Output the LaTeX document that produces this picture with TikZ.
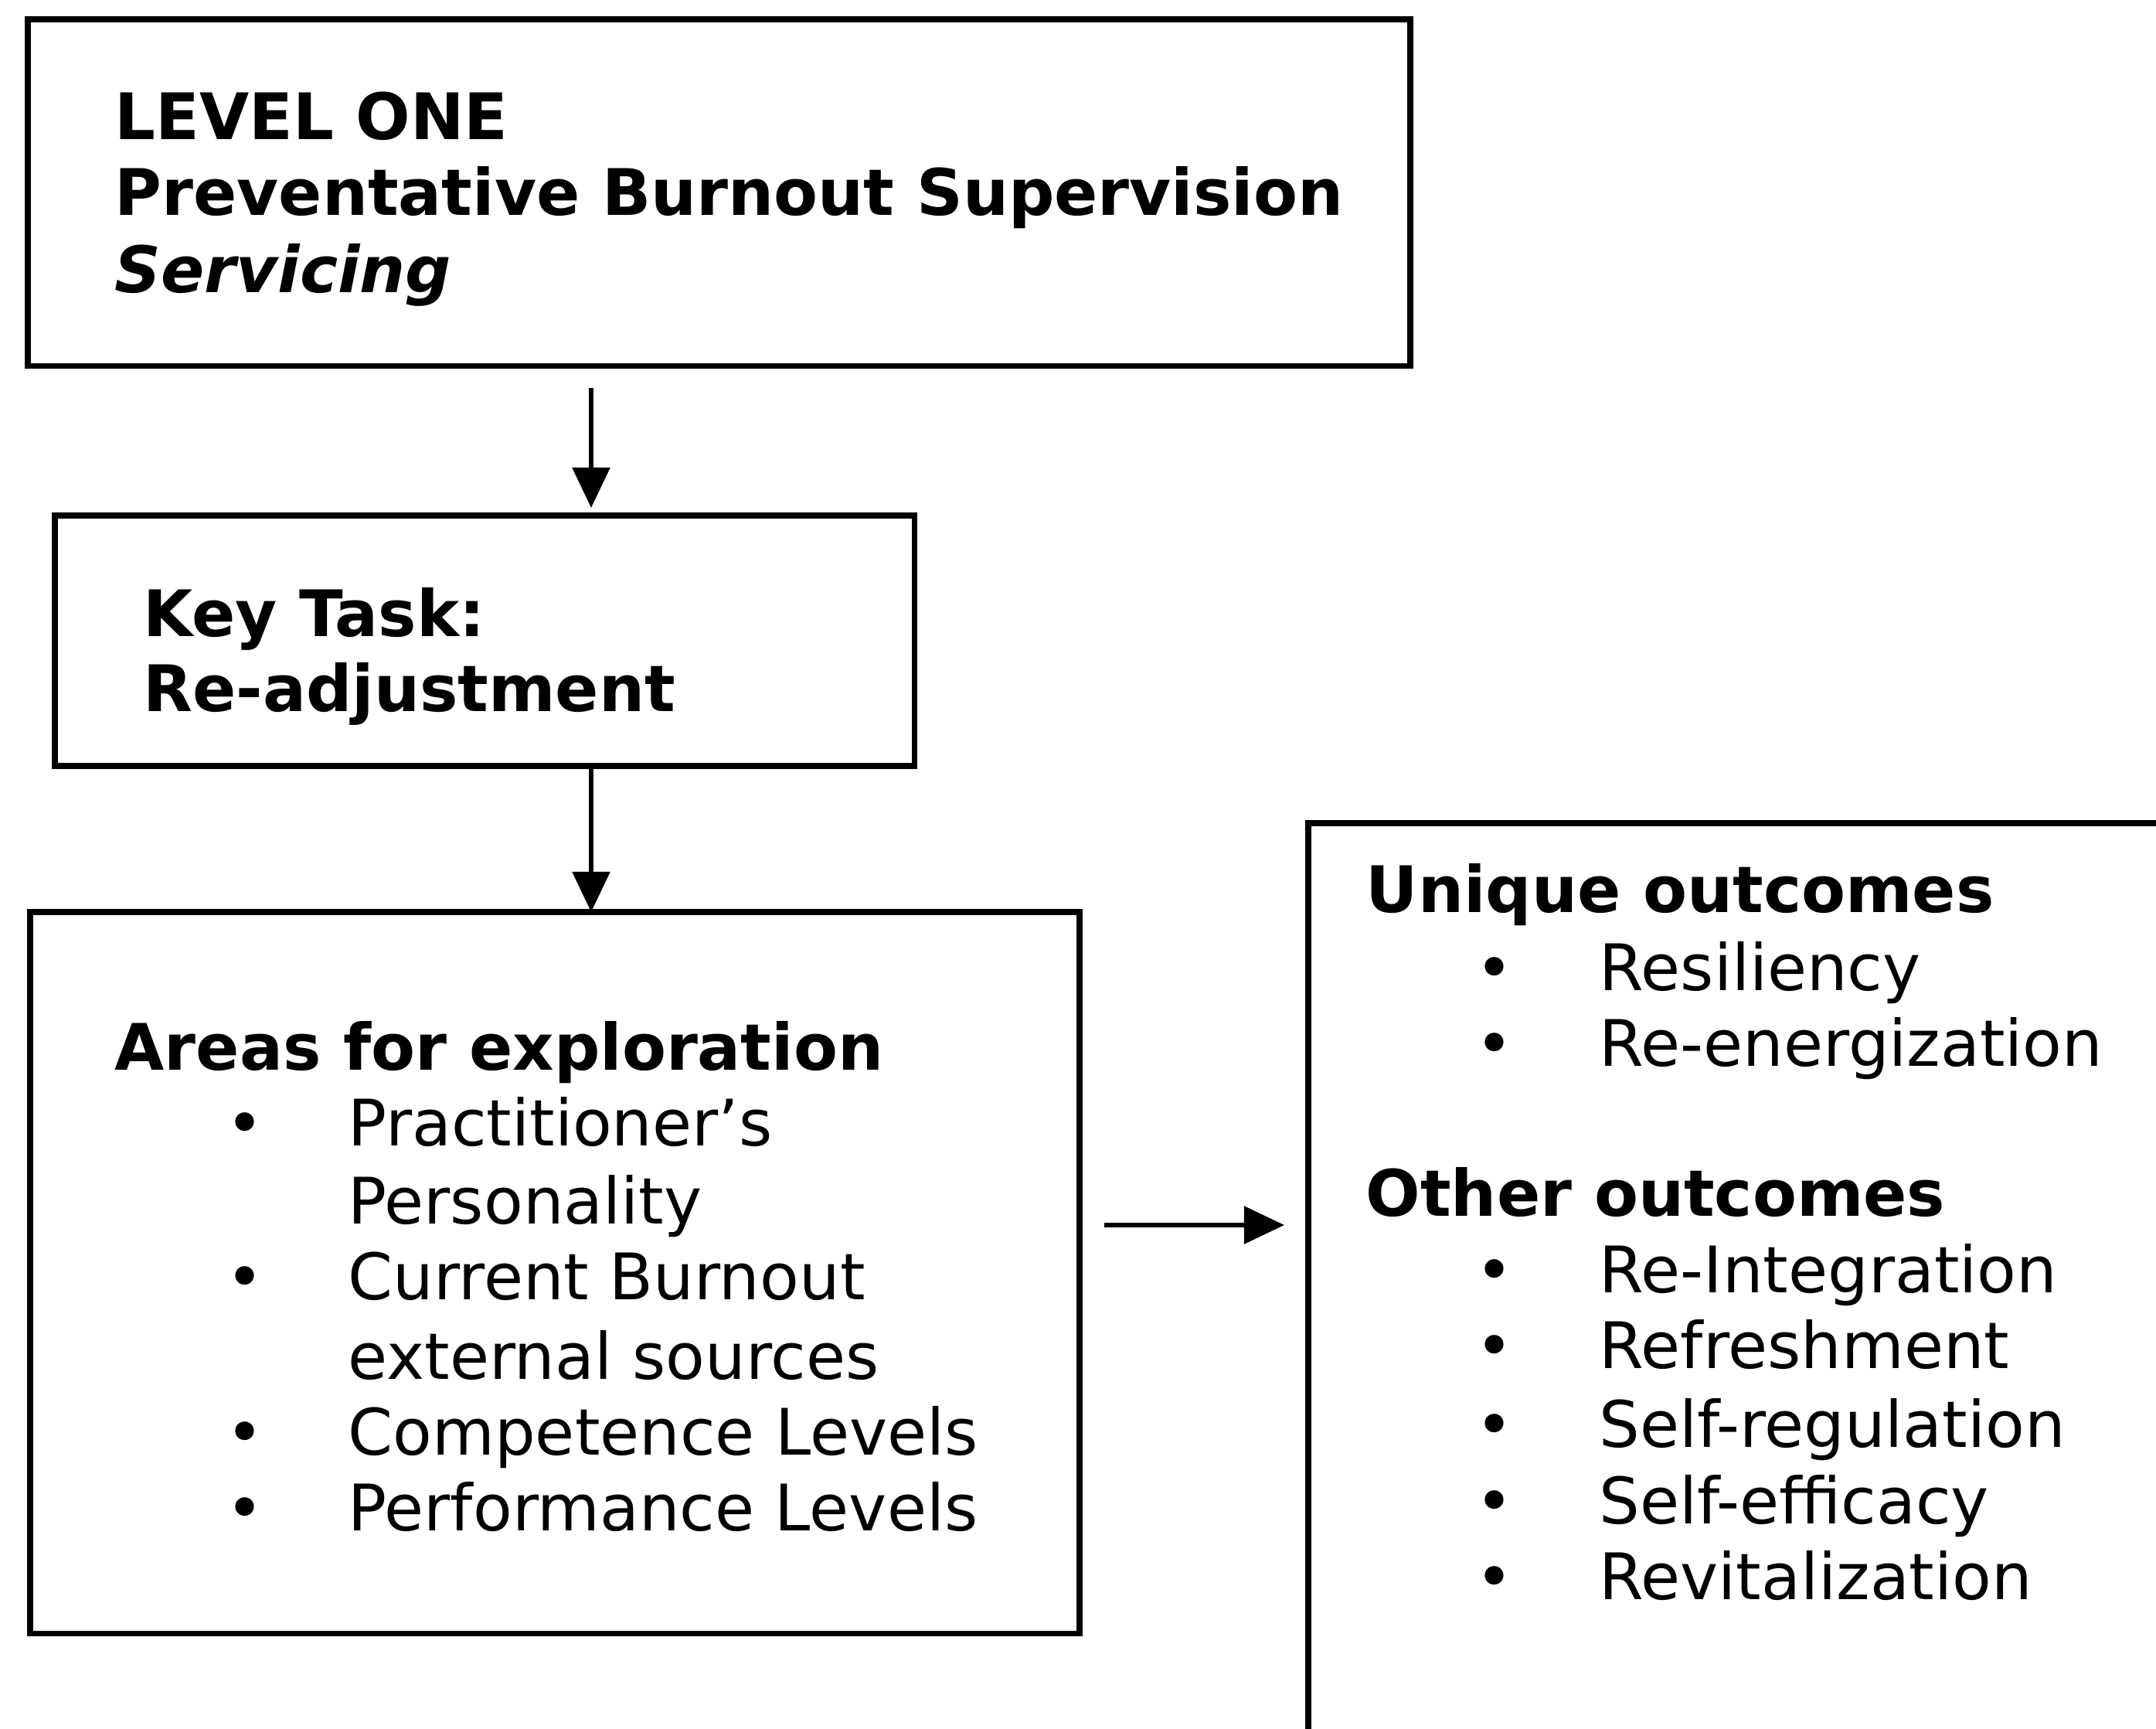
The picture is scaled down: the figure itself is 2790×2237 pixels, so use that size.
\documentclass[tikz,border=0pt]{standalone}
\usepackage{fontspec}
\setmainfont{DejaVu Sans}
\usetikzlibrary{arrows.meta,calc}
\begin{document}
\begin{tikzpicture}[x=0.01cm,y=-0.01cm,
  box/.style={draw, line width=0.075cm, rectangle, inner sep=0pt, outer sep=0pt, anchor=north west},
  txt/.style={anchor=base west, inner sep=0pt, font=\fontsize{23.6pt}{28pt}\selectfont},
  hd/.style={anchor=base west, inner sep=0pt, font=\fontsize{23.6pt}{28pt}\selectfont\bfseries},
  bul/.style={anchor=base, inner sep=0pt, font=\fontsize{23.6pt}{28pt}\selectfont},
  arr/.style={line width=0.055cm, -{Triangle[length=0.52cm,width=0.48cm]}}]
\useasboundingbox (0,0) rectangle (2790,2237);
\clip (0,0) rectangle (2790,2237);
\fill[white] (0,0) rectangle (2790,2237);

% boxes
\node[box, minimum width=17.88cm, minimum height=4.48cm] (b1) at (36,25) {};
\node[box, minimum width=11.12cm, minimum height=3.24cm] (b2) at (71,667) {};
\node[box, minimum width=13.57cm, minimum height=9.33cm] (b3) at (39,1180) {};
\node[box, minimum width=12cm, minimum height=12.5cm] (b4) at (1693,1065) {};

% box 1 text
\node[hd] (l1) at (148,181) {LEVEL ONE};
\node[hd] (l2) at (148,279) {Preventative Burnout Supervision};
\node[hd] (l3) at (148,379) {\itshape Servicing};

% box 2 text
\node[hd] (k1) at (185,824) {Key Task:};
\node[hd] (k2) at (185,920) {Re-adjustment};

% box 3 text
\node[hd] (ah) at (148,1384) {Areas for exploration};
\foreach \y [count=\i] in {1482,1681,1882,1980}
  \node[bul] (ab\i) at (317,\y) {•};
\foreach \t/\y [count=\i] in {Practitioner’s/1482, Personality/1583, Current Burnout/1681, external sources/1784, Competence Levels/1882, Performance Levels/1980}
  \node[txt] (at\i) at (450,\y) {\t};

% box 4 text
\node[hd] (uh) at (1767,1180) {Unique outcomes};
\foreach \y [count=\i] in {1281,1379}
  \node[bul] (ub\i) at (1934,\y) {•};
\foreach \t/\y [count=\i] in {Resiliency/1281, Re-energization/1379}
  \node[txt] (ut\i) at (2069,\y) {\t};
\node[hd] (oh) at (1767,1573) {Other outcomes};
\foreach \y [count=\i] in {1672,1770,1872,1971,2069}
  \node[bul] (ob\i) at (1934,\y) {•};
\foreach \t/\y [count=\i] in {Re-Integration/1672, Refreshment/1770, Self-regulation/1872, Self-efficacy/1971, Revitalization/2069}
  \node[txt] (ot\i) at (2069,\y) {\t};

% connectors
\coordinate (a1s) at (765,502);
\draw[arr] (a1s) -- ($(a1s |- b2.north)+(0,-10)$);
\draw[arr] (a1s |- b2.south) -- (a1s |- b3.north);
\coordinate (a3s) at (1429,1585);
\coordinate (a3e) at (1662,1585);
\draw[arr] (a3s) -- (a3e);
\end{tikzpicture}
\end{document}
